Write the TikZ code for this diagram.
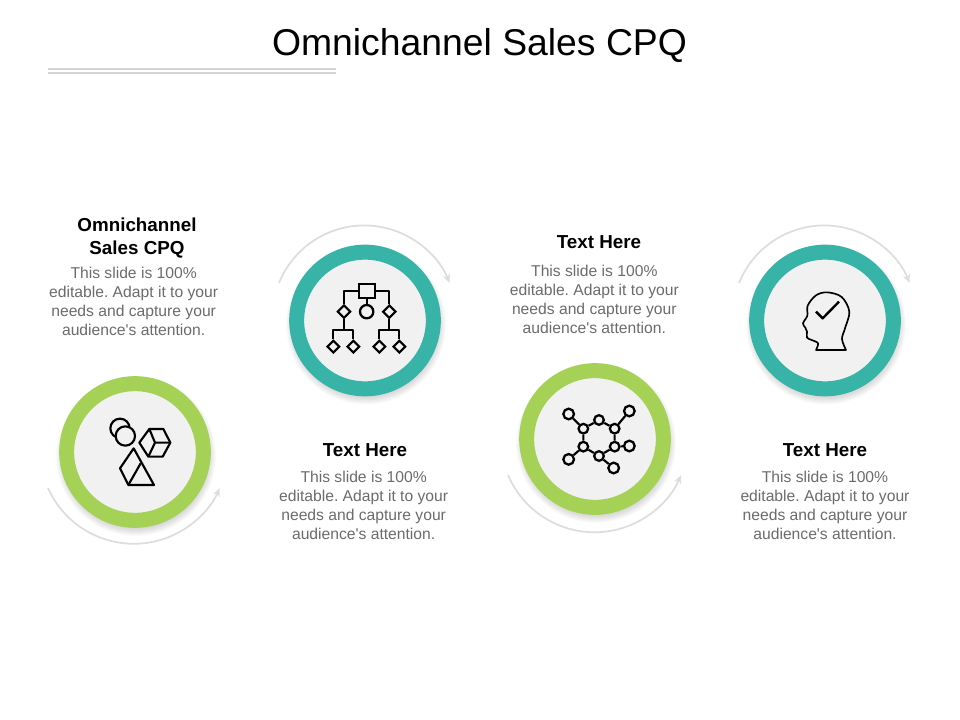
\documentclass[tikz,border=0pt]{standalone}
\usepackage{fontspec}
\setmainfont{Liberation Sans}
\usetikzlibrary{positioning,arrows.meta,shapes.geometric}
\frenchspacing
\definecolor{ringgreen}{HTML}{A5D157}
\definecolor{ringteal}{HTML}{38B3A8}
\definecolor{discgray}{HTML}{F1F1F2}
\definecolor{arcgray}{HTML}{DDDDDD}
\definecolor{rulegray}{HTML}{D4D4D4}
\definecolor{bodygray}{HTML}{6B6B6B}
\tikzset{
  ring/.style={circle, draw=#1, fill=discgray, line width=11.25pt, minimum size=102.5pt, inner sep=0pt},
  turn/.style={-{Stealth[length=6.5pt,width=5.5pt]}, arcgray, line width=1.3pt},
  head/.style={align=center, inner sep=0pt, font=\bfseries\fontsize{14.1}{17.2}\selectfont},
  body/.style={align=center, inner sep=0pt, text=bodygray, font=\fontsize{11.75}{14.25}\selectfont},
  glyph/.style={black, line width=1.6pt, line join=round},
  box/.style={draw, black, line width=1.6pt, minimum width=12pt, minimum height=10.5pt, inner sep=0pt},
  kite/.style={diamond, draw, black, line width=1.6pt, minimum size=#1, inner sep=0pt},
  dot/.style={circle, draw, black, line width=1.7pt, fill=discgray, minimum size=#1, inner sep=0pt}
}
\newcommand{\slidetext}{This slide is 100\%\\editable. Adapt it to your\\needs and capture your\\audience\textquotesingle s attention.}
\begin{document}
\begin{tikzpicture}[x=0.75pt, y=-0.75pt, node distance = 7pt]
\useasboundingbox (0,0) rectangle (960,720);

\node [font=\fontsize{28}{32}\selectfont, anchor=base] (title) at (479.5,56) {Omnichannel Sales CPQ};
\coordinate (rulea) at (48,69);
\coordinate (ruleb) at (336,69);
\coordinate (rulec) at (48,73);
\coordinate (ruled) at (336,73);
\draw [rulegray, line width=1.5pt] (rulea) -- (ruleb) (rulec) -- (ruled);

% rings
\foreach \nm/\cx/\cy/\clr in {ringa/135/452/ringgreen, ringb/365/320.5/ringteal, ringc/595/439/ringgreen, ringd/825/320.5/ringteal} {
  \foreach \r in {71,72,...,80}
    \fill [black, opacity=.018] (\cx+1,\cy+4) circle [radius=\r];
  \node [ring=\clr] (\nm) at (\cx,\cy) {};
}

% arrows round the rings
\coordinate (turna) at (48,488);
\coordinate (turnb) at (279,283);
\coordinate (turnc) at (508,475);
\coordinate (turnd) at (739,283);
\draw [turn] (turna) arc [start angle=156, end angle=24, radius=94];
\draw [turn] (turnb) arc [start angle=-158, end angle=-22, radius=92];
\draw [turn] (turnc) arc [start angle=157, end angle=23, radius=94];
\draw [turn] (turnd) arc [start angle=-158, end angle=-22, radius=92];

% texts
\node [head] (heada) at (137,238) {Omnichannel\\Sales CPQ};
\node [body, below=6.2pt of heada, xshift=-2.5pt] (bodya) {\slidetext};
\node [head] (headb) at (365,450) {Text Here};
\node [body, below=10.7pt of headb, xshift=-1pt] (bodyb) {\slidetext};
\node [head] (headc) at (599,242) {Text Here};
\node [body, below=12.2pt of headc, xshift=-3.5pt] (bodyc) {\slidetext};
\node [head] (headd) at (825,450) {Text Here};
\node [body, below=10.7pt of headd] (bodyd) {\slidetext};

% shapes icon
\begin{scope}[shift={(40,360)}, x=.25pt, y=-.25pt]
  \draw [glyph] (240,205) circle [radius=29];
  \draw [glyph, fill=discgray] (256,228) circle [radius=29];
  \draw [glyph] (298,248) -- (328,207) -- (370,207) -- (391,248) -- (368,290) -- (325,290) -- cycle;
  \draw [glyph] (328,207) -- (345,248) -- (391,248) (345,248) -- (325,290);
  \draw [glyph] (281,265) -- (240,325) -- (265,375) -- (342,375) -- cycle;
  \draw [glyph] (302,310) -- (265,375);
\end{scope}

% tree icon
\begin{scope}[shift={(270,215)}, x=.25pt, y=-.25pt]
  \node [box] (root) at (290,227) {};
  \node [dot=10pt] (mid) at (290,290) {};
  \node [kite=10pt] (kl) at (222,290) {};
  \node [kite=10pt] (kr) at (358,290) {};
  \foreach \nm/\px in {la/190, lb/250, ra/328, rb/388}
    \node [kite=9.5pt] (\nm) at (\px,395) {};
  \coordinate (jl) at (222,345);
  \coordinate (jr) at (358,345);
  \draw [glyph] (root) -- (mid);
  \draw [glyph] (root.west) -| (kl.north);
  \draw [glyph] (root.east) -| (kr.north);
  \draw [glyph] (kl) -- (jl) (kr) -- (jr);
  \draw [glyph] (la.north) |- (jl) -| (lb.north);
  \draw [glyph] (ra.north) |- (jr) -| (rb.north);
\end{scope}

% network icon
\begin{scope}[shift={(500,350)}, x=.25pt, y=-.25pt]
  \foreach \nm/\px/\py in {ha/297/210, hb/344/236, hc/344/290, hd/297/318, he/250/290, hf/250/236}
    \node [dot=7.2pt] (\nm) at (\px,\py) {};
  \foreach \nm/\px/\py in {oa/206/192, ob/388/183, oc/388/288, od/341/354, oe/206/328}
    \node [dot=8pt] (\nm) at (\px,\py) {};
  \draw [glyph] (ha) -- (hb) -- (hc) -- (hd) -- (he) -- (hf) -- (ha);
  \draw [glyph] (oa) -- (hf) (ob) -- (hb) (oc) -- (hc) (od) -- (hd) (oe) -- (he);
\end{scope}

% head icon
\begin{scope}[shift={(730,215)}, x=.25pt, y=-.25pt]
  \draw [glyph, line width=1.25pt] plot [smooth, tension=.55] coordinates {(258,405) (264,385) (245,375) (231,368) (231,350) (226,338) (219,325) (232,302) (233,272) (258,241) (292,232) (335,246) (358,290) (345,340) (336,372) (348,405)} -- cycle;
  \draw [glyph, line width=1.8pt] (258,290) -- (278,310) -- (327,260);
\end{scope}
\end{tikzpicture}
\end{document}
